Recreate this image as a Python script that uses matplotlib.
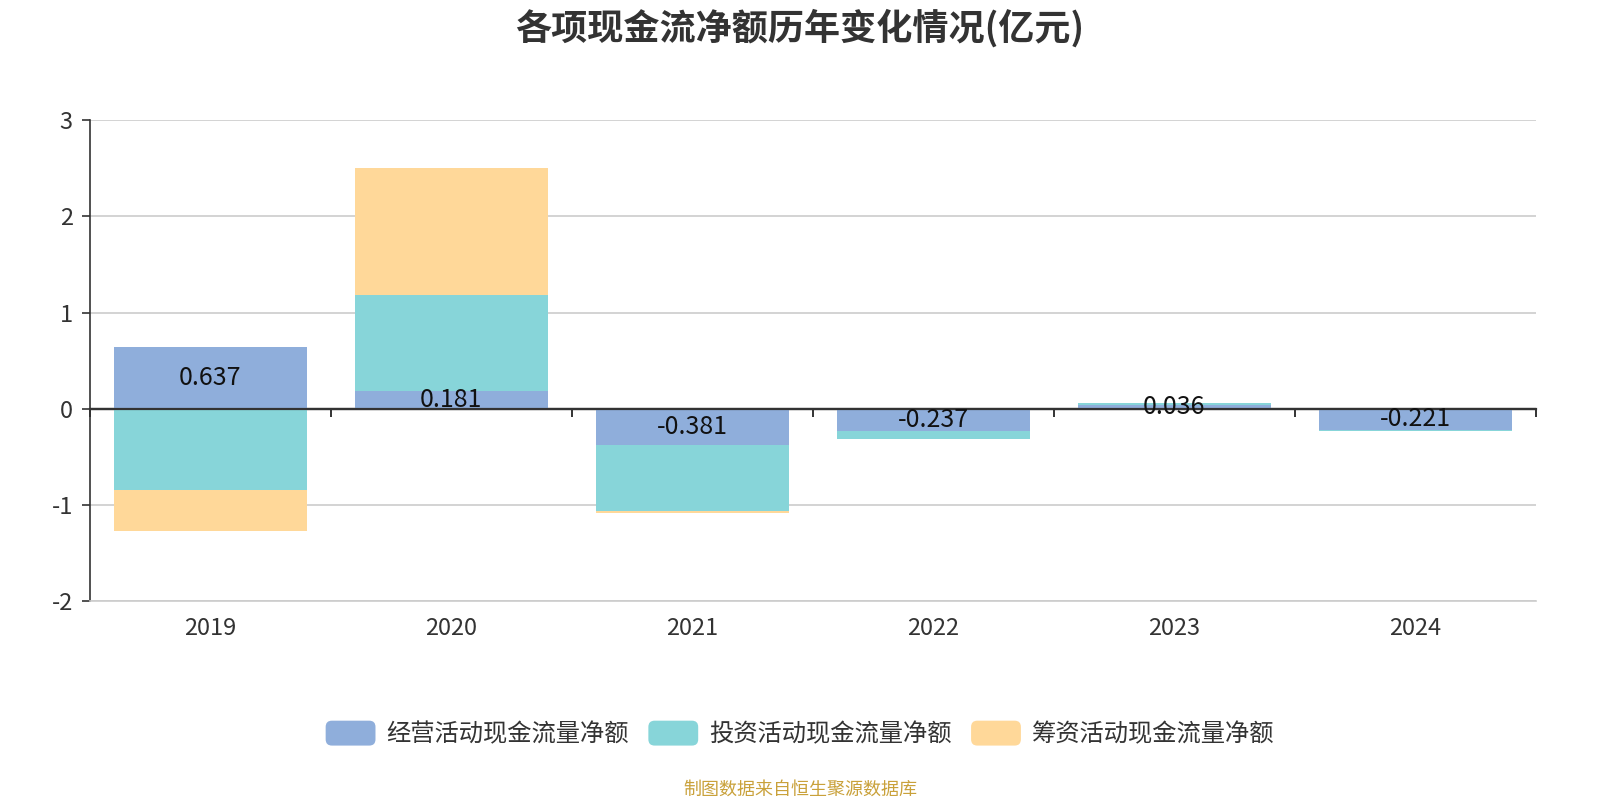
import matplotlib

matplotlib.use("Agg")
import matplotlib.pyplot as plt
import numpy as np
from matplotlib.legend_handler import HandlerPatch
from matplotlib.patches import FancyBboxPatch, Patch

plt.rcParams["font.family"] = ["Noto Sans CJK SC", "DejaVu Sans"]
plt.rcParams["axes.unicode_minus"] = False

years = ["2019", "2020", "2021", "2022", "2023", "2024"]
operating = [0.637, 0.181, -0.381, -0.237, 0.036, -0.221]
investing = [-0.851, 1.00, -0.685, -0.08, 0.02, -0.015]
financing = [-0.42, 1.32, -0.025, -0.004, 0.0, 0.005]

series_names = ["经营活动现金流量净额", "投资活动现金流量净额", "筹资活动现金流量净额"]
colors = ["#8FAEDB", "#87D5D9", "#FFD899"]
TEXT = "#333333"


class RoundHandler(HandlerPatch):
    def create_artists(self, legend, orig_handle, xdescent, ydescent, width, height, fontsize, trans):
        p = FancyBboxPatch(
            (-xdescent, -ydescent), width, height,
            boxstyle=f"round,pad=0,rounding_size={height * 0.25}",
            facecolor=orig_handle.get_facecolor(), edgecolor="none", transform=trans,
        )
        return [p]


fig = plt.figure(figsize=(16, 8), dpi=100, facecolor="white")
ax = fig.add_axes([0.056, 0.249, 0.904, 0.6005])

x = np.arange(len(years))
pos_base = np.zeros(len(years))
neg_base = np.zeros(len(years))
for vals, color, name in zip([operating, investing, financing], colors, series_names):
    v = np.array(vals)
    bottom = np.where(v >= 0, pos_base, neg_base)
    ax.bar(x, v, width=0.8, bottom=bottom, color=color, label=name, zorder=3, linewidth=0)
    pos_base = pos_base + np.where(v >= 0, v, 0)
    neg_base = neg_base + np.where(v < 0, v, 0)

for xi, v in zip(x, operating):
    ax.text(xi, v / 2, f"{v:g}", ha="center", va="center", fontsize=18, color="#111111", zorder=6)

ax.set_xlim(-0.5, len(years) - 0.5)
ax.set_ylim(-2, 3)
ax.set_yticks(range(-2, 4))
ax.set_yticklabels([str(t) for t in range(-2, 4)], fontsize=17, color=TEXT)
ax.grid(axis="y", color="#cccccc", linewidth=1.2, zorder=0)
ax.set_xticks(x)
ax.set_xticklabels(years, fontsize=17, color=TEXT)
ax.tick_params(axis="x", length=0, pad=12)
ax.tick_params(axis="y", length=6, width=1.2, color=TEXT, pad=6)
ax.axhline(0, color=TEXT, linewidth=1.6, zorder=5)

for side in ["top", "right"]:
    ax.spines[side].set_visible(False)
ax.spines["bottom"].set_color("#cccccc")
ax.spines["bottom"].set_linewidth(1.2)
ax.spines["left"].set_color(TEXT)
ax.spines["left"].set_linewidth(1.2)

zero_axis = ax.secondary_xaxis(0.4)
zero_axis.set_xticks(np.arange(-0.5, len(years), 1.0))
zero_axis.set_xticklabels([])
zero_axis.tick_params(axis="x", direction="out", length=6, width=1.4, color=TEXT)
zero_axis.spines["bottom"].set_color(TEXT)
zero_axis.spines["bottom"].set_linewidth(1.6)

fig.text(0.5, 0.965, "各项现金流净额历年变化情况(亿元)", ha="center", va="center",
         fontsize=26, fontweight="bold", color=TEXT)

handles = [Patch(facecolor=c) for c in colors]
fig.legend(handles, series_names, loc="center", bbox_to_anchor=(0.5, 0.0825), ncol=3,
           frameon=False, fontsize=17.5, handlelength=2.05, handleheight=1.2,
           handletextpad=0.45, columnspacing=0.8, labelcolor=TEXT,
           handler_map={Patch: RoundHandler()})

fig.text(0.5, 0.013, "制图数据来自恒生聚源数据库", ha="center", va="center", fontsize=13, color="#C9A13A")

fig.savefig("out.png", dpi=100, facecolor="white")
